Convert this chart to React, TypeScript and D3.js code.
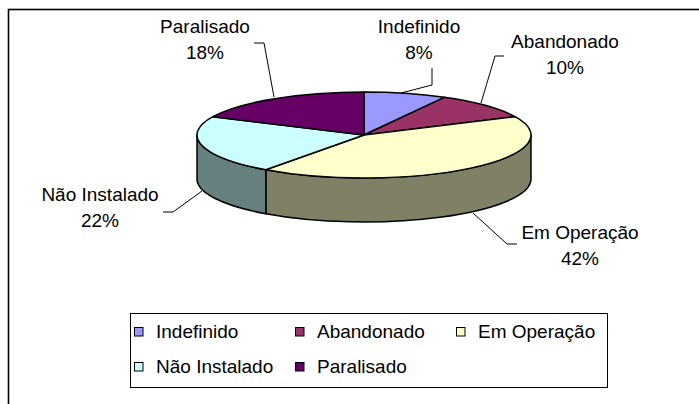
import React from "react";
import * as d3 from "d3";

const categories = ["Indefinido", "Abandonado", "Em Operação", "Não Instalado", "Paralisado"];
const values = [8, 10, 42, 22, 18];
const topColors = ["#9999FF", "#993366", "#FFFFCC", "#CCFFFF", "#660066"];
const sideColors = ["#4d4d80", "#4d1a33", "#808066", "#668080", "#330033"];
const labelText = ["8%", "10%", "42%", "22%", "18%"];

const W = 699;
const H = 404;
const cx = 364;
const cy = 135;
const rx = 167;
const ry = 43;
const depth = 44;

// label anchor positions (center x, first baseline)
const labelPos: [number, number][] = [
  [419, 33],
  [565, 48],
  [580, 239],
  [100, 201],
  [205, 33],
];
// leader lines
const leaders: [number, number][][] = [
  [[401, 93], [432, 85], [432, 68]],
  [[504, 56], [495, 56], [481, 103]],
  [[473, 213], [507, 244], [517, 244]],
  [[163, 212], [173, 212], [202, 191]],
  [[254, 43], [264, 43], [274, 97]],
];

const FONT = "'Liberation Sans', Arial, sans-serif";
const FS = 19;

function pt(a: number, dy = 0): [number, number] {
  return [cx + rx * Math.sin(a), cy - ry * Math.cos(a) + dy];
}

export default function App() {
  const pie = d3.pie<number>().sort(null).value((d) => d);
  const arcs = pie(values);
  const arcGen = d3.arc<d3.PieArcDatum<number>>().innerRadius(0).outerRadius(rx);

  // side faces: visible between PI/2 and 3PI/2
  const sides = arcs
    .map((a, i) => {
      const a0 = Math.max(a.startAngle, Math.PI / 2);
      const a1 = Math.min(a.endAngle, (3 * Math.PI) / 2);
      if (a1 <= a0) return null;
      const p0 = pt(a0);
      const p1 = pt(a1);
      const b1 = pt(a1, depth);
      const b0 = pt(a0, depth);
      const large = a1 - a0 > Math.PI ? 1 : 0;
      const d = `M${p0[0]},${p0[1]} A${rx},${ry} 0 ${large} 1 ${p1[0]},${p1[1]} L${b1[0]},${b1[1]} A${rx},${ry} 0 ${large} 0 ${b0[0]},${b0[1]} Z`;
      return { d, i };
    })
    .filter(Boolean) as { d: string; i: number }[];

  const legendCols = [156, 317, 478];
  const legendRows = [338, 373];
  const line = d3.line();

  return (
    <svg width={W} height={H} style={{ position: "absolute", left: 0, top: 0, background: "#fff" }}>
      <rect x={8.5} y={9.5} width={W} height={H} fill="#fff" stroke="#000" strokeWidth={1.6} />
      {sides.map((s) => (
        <path key={"s" + s.i} d={s.d} fill={sideColors[s.i]} stroke="#000" strokeWidth={1.5} strokeLinejoin="round" />
      ))}
      <g transform={`translate(${cx},${cy}) scale(1,${ry / rx})`}>
        {arcs.map((a, i) => (
          <path
            key={"t" + i}
            d={arcGen(a) || ""}
            fill={topColors[i]}
            stroke="#000"
            strokeWidth={1.5}
            strokeLinejoin="round"
            vectorEffect="non-scaling-stroke"
          />
        ))}
      </g>
      {leaders.map((l, i) => (
        <path key={"l" + i} d={line(l) || ""} fill="none" stroke="#000" strokeWidth={1} />
      ))}
      {categories.map((c, i) => (
        <g key={"lab" + i} fontFamily={FONT} fontSize={FS} fill="#000" textAnchor="middle">
          <text x={labelPos[i][0]} y={labelPos[i][1]}>{c}</text>
          <text x={labelPos[i][0]} y={labelPos[i][1] + 26}>{labelText[i]}</text>
        </g>
      ))}
      <rect x={130.5} y={313.5} width={477} height={74} fill="#fff" stroke="#000" strokeWidth={1} />
      {categories.map((c, i) => {
        const col = i % 3;
        const row = Math.floor(i / 3);
        const tx = legendCols[col];
        const ty = legendRows[row];
        return (
          <g key={"lg" + i}>
            <rect x={tx - 21.5} y={ty - 10.5} width={8.5} height={8.5} fill={topColors[i]} stroke="#000" strokeWidth={1} />
            <text x={tx} y={ty} fontFamily={FONT} fontSize={FS} fill="#000">{c}</text>
          </g>
        );
      })}
    </svg>
  );
}
